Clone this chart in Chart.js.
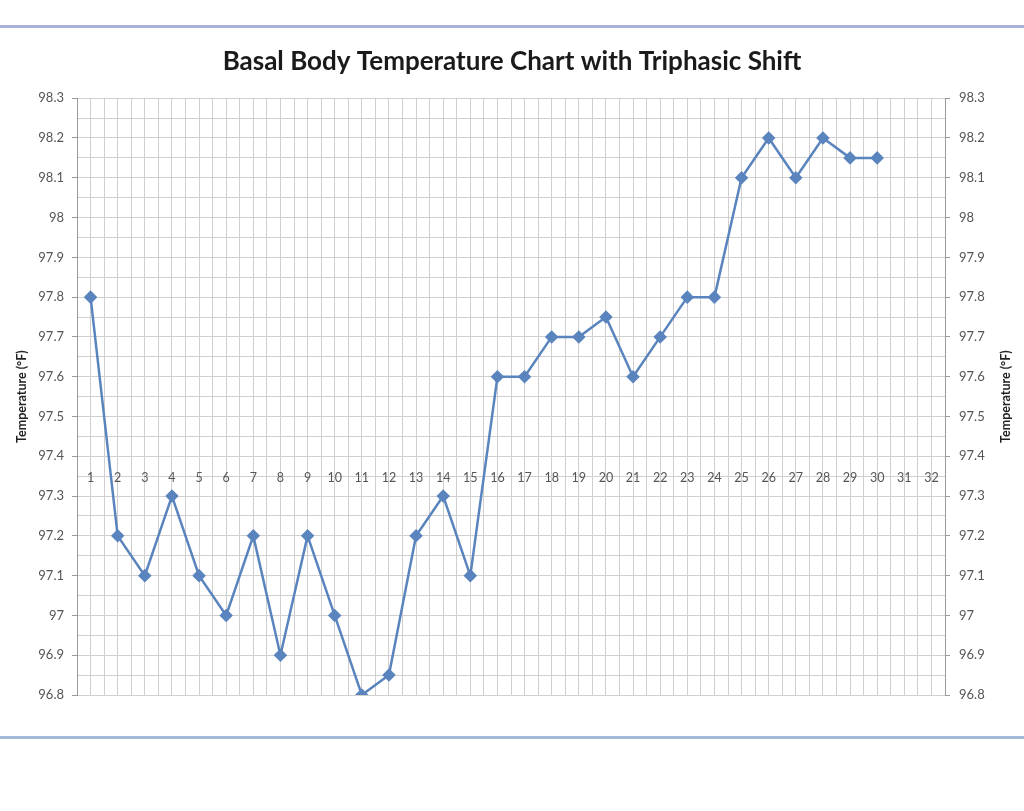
<!DOCTYPE html>
<html>
<head>
<meta charset="utf-8">
<title>Basal Body Temperature Chart with Triphasic Shift</title>
<script src="https://cdn.jsdelivr.net/npm/chart.js@4.4.1/dist/chart.umd.min.js"></script>
<style>
  html, body { margin: 0; padding: 0; background: #fff; }
  #wrap { position: relative; width: 1024px; height: 811px; }
  .rule { position: absolute; left: 0; width: 1024px; height: 3px; }
  #ruleTop { top: 25px; background: #aab0d9; }
  #ruleBottom { top: 736px; background: #a2b9da; }
</style>
</head>
<body>
<div id="wrap">
  <div class="rule" id="ruleTop"></div>
  <canvas id="bbtChart" width="1024" height="811"></canvas>
  <div class="rule" id="ruleBottom"></div>
</div>
<script>
// cycle days and recorded temperatures (°F)
const days = [1, 2, 3, 4, 5, 6, 7, 8, 9, 10, 11, 12, 13, 14, 15,
              16, 17, 18, 19, 20, 21, 22, 23, 24, 25, 26, 27, 28, 29, 30];
const temps = [97.8, 97.2, 97.1, 97.3, 97.1, 97.0, 97.2, 96.9, 97.2, 97.0,
               96.8, 96.85, 97.2, 97.3, 97.1, 97.6, 97.6, 97.7, 97.7, 97.75,
               97.6, 97.7, 97.8, 97.8, 98.1, 98.2, 98.1, 98.2, 98.15, 98.15];
const dayLabels = ['1', '2', '3', '4', '5', '6', '7', '8', '9', '10', '11', '12', '13', '14', '15', '16',
                   '17', '18', '19', '20', '21', '22', '23', '24', '25', '26', '27', '28', '29', '30', '31', '32'];
const tempTicks = ['96.8', '96.9', '97', '97.1', '97.2', '97.3', '97.4', '97.5',
                   '97.6', '97.7', '97.8', '97.9', '98', '98.1', '98.2', '98.3'];

const TICK_COLOR = '#555';
const GRID_COLOR = '#cfcfcf';
const AXIS_COLOR = '#9a9a9a';
const LINE_COLOR = '#5a84bd';

function tempLabel(v) {
  const hundredths = Math.round(v * 100);
  if (hundredths % 10 !== 0) return '';
  const idx = Math.round((v - 96.8) * 10);
  return tempTicks[idx] !== undefined ? tempTicks[idx] : '';
}
function isMajor(ctx) {
  return ctx.tick && Math.round(ctx.tick.value * 100) % 10 === 0;
}

// right-hand axis title reads bottom-to-top like the left one
const rightTitle = {
  id: 'rightTitle',
  afterDraw(chart) {
    const { ctx, chartArea } = chart;
    ctx.save();
    ctx.translate(1006, (chartArea.top + chartArea.bottom) / 2);
    ctx.rotate(-Math.PI / 2);
    ctx.fillStyle = '#222';
    ctx.font = 'bold 12.5px Lato';
    ctx.textAlign = 'center';
    ctx.textBaseline = 'middle';
    ctx.fillText('Temperature (°F)', 0, 0);
    ctx.restore();
  }
};

new Chart(document.getElementById('bbtChart').getContext('2d'), {
  type: 'line',
  data: {
    datasets: [{
      data: days.map((d, i) => ({ x: d, y: temps[i] })),
      borderColor: LINE_COLOR,
      backgroundColor: LINE_COLOR,
      borderWidth: 2.5,
      pointStyle: 'rectRot',
      pointRadius: 5,
      pointHoverRadius: 5,
      tension: 0,
      fill: false
    }]
  },
  options: {
    responsive: false,
    animation: false,
    devicePixelRatio: 1,
    layout: { padding: { left: 0, right: 0, top: 0, bottom: 116 } },
    plugins: {
      legend: { display: false },
      tooltip: { enabled: false },
      title: {
        display: true,
        text: 'Basal Body Temperature Chart with Triphasic Shift',
        color: '#1a1a1a',
        font: { family: 'Lato', size: 26, weight: 'bold' },
        padding: { top: 46, bottom: 21 }
      }
    },
    scales: {
      x: {
        type: 'linear',
        position: { y: 97.4 },
        min: 0.5,
        max: 32.5,
        border: { display: false },
        grid: { color: GRID_COLOR, lineWidth: 1, drawTicks: false },
        ticks: {
          stepSize: 0.5,
          autoSkip: false,
          maxRotation: 0,
          padding: 14,
          color: TICK_COLOR,
          font: { family: 'Lato', size: 12.5 },
          callback: v => Number.isInteger(v) ? dayLabels[v - 1] : ''
        }
      },
      y: {
        position: 'left',
        min: 96.8,
        max: 98.3,
        afterFit: s => { s.width = 77; },
        border: { display: true, color: AXIS_COLOR, width: 1 },
        grid: {
          color: GRID_COLOR,
          lineWidth: 1,
          tickLength: 5,
          tickColor: ctx => isMajor(ctx) ? AXIS_COLOR : 'rgba(0,0,0,0)'
        },
        title: {
          display: true,
          text: 'Temperature (°F)',
          color: '#222',
          font: { family: 'Lato', size: 12.5, weight: 'bold' },
          padding: { top: 14, bottom: 0 }
        },
        ticks: {
          stepSize: 0.05,
          autoSkip: false,
          padding: 8,
          color: TICK_COLOR,
          font: { family: 'Lato', size: 13 },
          callback: v => tempLabel(v)
        }
      },
      y2: {
        position: 'right',
        min: 96.8,
        max: 98.3,
        afterFit: s => { s.width = 79; },
        border: { display: true, color: AXIS_COLOR, width: 1 },
        grid: {
          drawOnChartArea: false,
          tickLength: 5,
          color: ctx => isMajor(ctx) ? AXIS_COLOR : 'rgba(0,0,0,0)'
        },
        ticks: {
          stepSize: 0.05,
          autoSkip: false,
          padding: 9,
          color: TICK_COLOR,
          font: { family: 'Lato', size: 13 },
          callback: v => tempLabel(v)
        }
      }
    }
  },
  plugins: [rightTitle]
});
</script>
</body>
</html>
